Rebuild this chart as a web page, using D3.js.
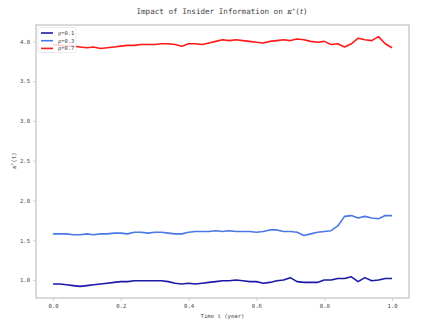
<!DOCTYPE html>
<html>
<head>
<meta charset="utf-8">
<script src="https://cdn.jsdelivr.net/npm/d3@7"></script>
<style>
  body { margin: 0; background: #fff; }
  text { font-family: "DejaVu Sans Mono", monospace; fill: #444; }
</style>
</head>
<body>
<svg id="chart" width="448" height="324"></svg>
<script>
const times = [0.00, 0.02, 0.04, 0.06, 0.08, 0.10, 0.12, 0.14, 0.16, 0.18,
               0.20, 0.22, 0.24, 0.26, 0.28, 0.30, 0.32, 0.34, 0.36, 0.38,
               0.40, 0.42, 0.44, 0.46, 0.48, 0.50, 0.52, 0.54, 0.56, 0.58,
               0.60, 0.62, 0.64, 0.66, 0.68, 0.70, 0.72, 0.74, 0.76, 0.78,
               0.80, 0.82, 0.84, 0.86, 0.88, 0.90, 0.92, 0.94, 0.96, 0.98, 1.00];

const rho01 = [0.95, 0.95, 0.94, 0.93, 0.92, 0.93, 0.94, 0.95, 0.96, 0.97,
               0.98, 0.98, 0.99, 0.99, 0.99, 0.99, 0.99, 0.98, 0.96, 0.95,
               0.96, 0.95, 0.96, 0.97, 0.98, 0.99, 0.99, 1.00, 0.99, 0.98,
               0.98, 0.96, 0.97, 0.99, 1.00, 1.03, 0.98, 0.97, 0.97, 0.97,
               1.00, 1.00, 1.02, 1.02, 1.04, 0.98, 1.03, 0.99, 1.00, 1.02, 1.02];

const rho03 = [1.58, 1.58, 1.58, 1.57, 1.57, 1.58, 1.57, 1.58, 1.58, 1.59,
               1.59, 1.58, 1.60, 1.60, 1.59, 1.60, 1.60, 1.59, 1.58, 1.58,
               1.60, 1.61, 1.61, 1.61, 1.62, 1.61, 1.62, 1.61, 1.61, 1.61,
               1.60, 1.61, 1.63, 1.63, 1.61, 1.61, 1.60, 1.56, 1.58, 1.60,
               1.61, 1.62, 1.68, 1.80, 1.81, 1.78, 1.80, 1.78, 1.77, 1.81, 1.81];

const rho07 = [3.96, 3.95, 3.94, 3.94, 3.93, 3.92, 3.93, 3.91, 3.92, 3.93,
               3.94, 3.95, 3.95, 3.96, 3.96, 3.96, 3.97, 3.97, 3.96, 3.94,
               3.97, 3.97, 3.96, 3.98, 4.00, 4.02, 4.01, 4.02, 4.01, 4.00,
               3.99, 3.98, 4.00, 4.01, 4.02, 4.01, 4.03, 4.02, 4.00, 3.99,
               4.00, 3.96, 3.97, 3.93, 3.97, 4.04, 4.02, 4.01, 4.06, 3.97, 3.92];

const seriesNames = ["ρ=0.1", "ρ=0.3", "ρ=0.7"];
const seriesColors = ["#1a1aa6", "#4a78e6", "#ff1a1a"];
const xTicks = [0.0, 0.2, 0.4, 0.6, 0.8, 1.0];
const yTicks = [1.0, 1.5, 2.0, 2.5, 3.0, 3.5, 4.0];

const series = [rho01, rho03, rho07];

const svg = d3.select("#chart");
const margin = { left: 36, right: 39, top: 25, bottom: 26 };
const width = 448 - margin.left - margin.right;
const height = 324 - margin.top - margin.bottom;

const x = d3.scaleLinear().domain([-0.05, 1.05]).range([margin.left, margin.left + width]);
const y = d3.scaleLinear().domain([0.774, 4.206]).range([margin.top + height, margin.top]);

// axes
const xAxis = svg.append("g")
  .attr("transform", "translate(0," + (margin.top + height) + ")")
  .call(d3.axisBottom(x).tickValues(xTicks).tickFormat(d3.format(".1f")).tickSize(3).tickPadding(3));
const yAxis = svg.append("g")
  .attr("transform", "translate(" + margin.left + ",0)")
  .call(d3.axisLeft(y).tickValues(yTicks).tickFormat(d3.format(".1f")).tickSize(3).tickPadding(3));

[xAxis, yAxis].forEach(a => {
  a.select(".domain").remove();
  a.selectAll(".tick line").attr("stroke", "#bbb").attr("stroke-width", 0.6);
  a.selectAll(".tick text").style("font-size", "5.6px").attr("fill", "#444");
});

// frame
svg.append("rect")
  .attr("x", margin.left)
  .attr("y", margin.top)
  .attr("width", width)
  .attr("height", height)
  .attr("fill", "none")
  .attr("stroke", "#b5b5b5")
  .attr("stroke-width", 1);

// lines
const line = d3.line()
  .x((d, i) => x(times[i]))
  .y(d => y(d));

series.forEach((s, i) => {
  svg.append("path")
    .datum(s)
    .attr("d", line)
    .attr("fill", "none")
    .attr("stroke", seriesColors[i])
    .attr("stroke-width", 1.6)
    .attr("stroke-linejoin", "round");
});

// legend
const legend = svg.append("g");
legend.append("rect")
  .attr("x", 38).attr("y", 27.5)
  .attr("width", 38).attr("height", 25)
  .attr("fill", "rgba(255,255,255,0.8)")
  .attr("stroke", "#ddd")
  .attr("stroke-width", 0.6)
  .attr("rx", 1.5);
seriesNames.forEach((name, i) => {
  const ly = 33 + i * 7.7;
  legend.append("line")
    .attr("x1", 41).attr("x2", 53)
    .attr("y1", ly).attr("y2", ly)
    .attr("stroke", seriesColors[i])
    .attr("stroke-width", 1.6);
  legend.append("text")
    .attr("x", 58).attr("y", ly + 2)
    .style("font-size", "5.4px")
    .text(name);
});

// title
const title = svg.append("text")
  .attr("x", 222)
  .attr("y", 14)
  .attr("text-anchor", "middle")
  .style("font-size", "7.6px");
title.append("tspan").text("Impact of Insider Information on ");
title.append("tspan").style("font-style", "italic").style("font-family", "DejaVu Serif").text("κ");
title.append("tspan").attr("dy", -2.5).style("font-size", "5px").text("*");
title.append("tspan").attr("dy", 2.5).text("(");
title.append("tspan").style("font-style", "italic").style("font-family", "DejaVu Serif").text("t");
title.append("tspan").text(")");

// x label
svg.append("text")
  .attr("x", x(0.5))
  .attr("y", 318)
  .attr("text-anchor", "middle")
  .style("font-size", "5.6px")
  .text("Time t (year)");

// y label
const yl = svg.append("text")
  .attr("transform", "translate(16," + y(2.5) + ") rotate(-90)")
  .attr("text-anchor", "middle")
  .style("font-size", "5.8px");
yl.append("tspan").style("font-style", "italic").style("font-family", "DejaVu Serif").text("κ");
yl.append("tspan").attr("dy", -2).style("font-size", "4px").text("*");
yl.append("tspan").attr("dy", 2).text("(t)");
</script>
</body>
</html>
